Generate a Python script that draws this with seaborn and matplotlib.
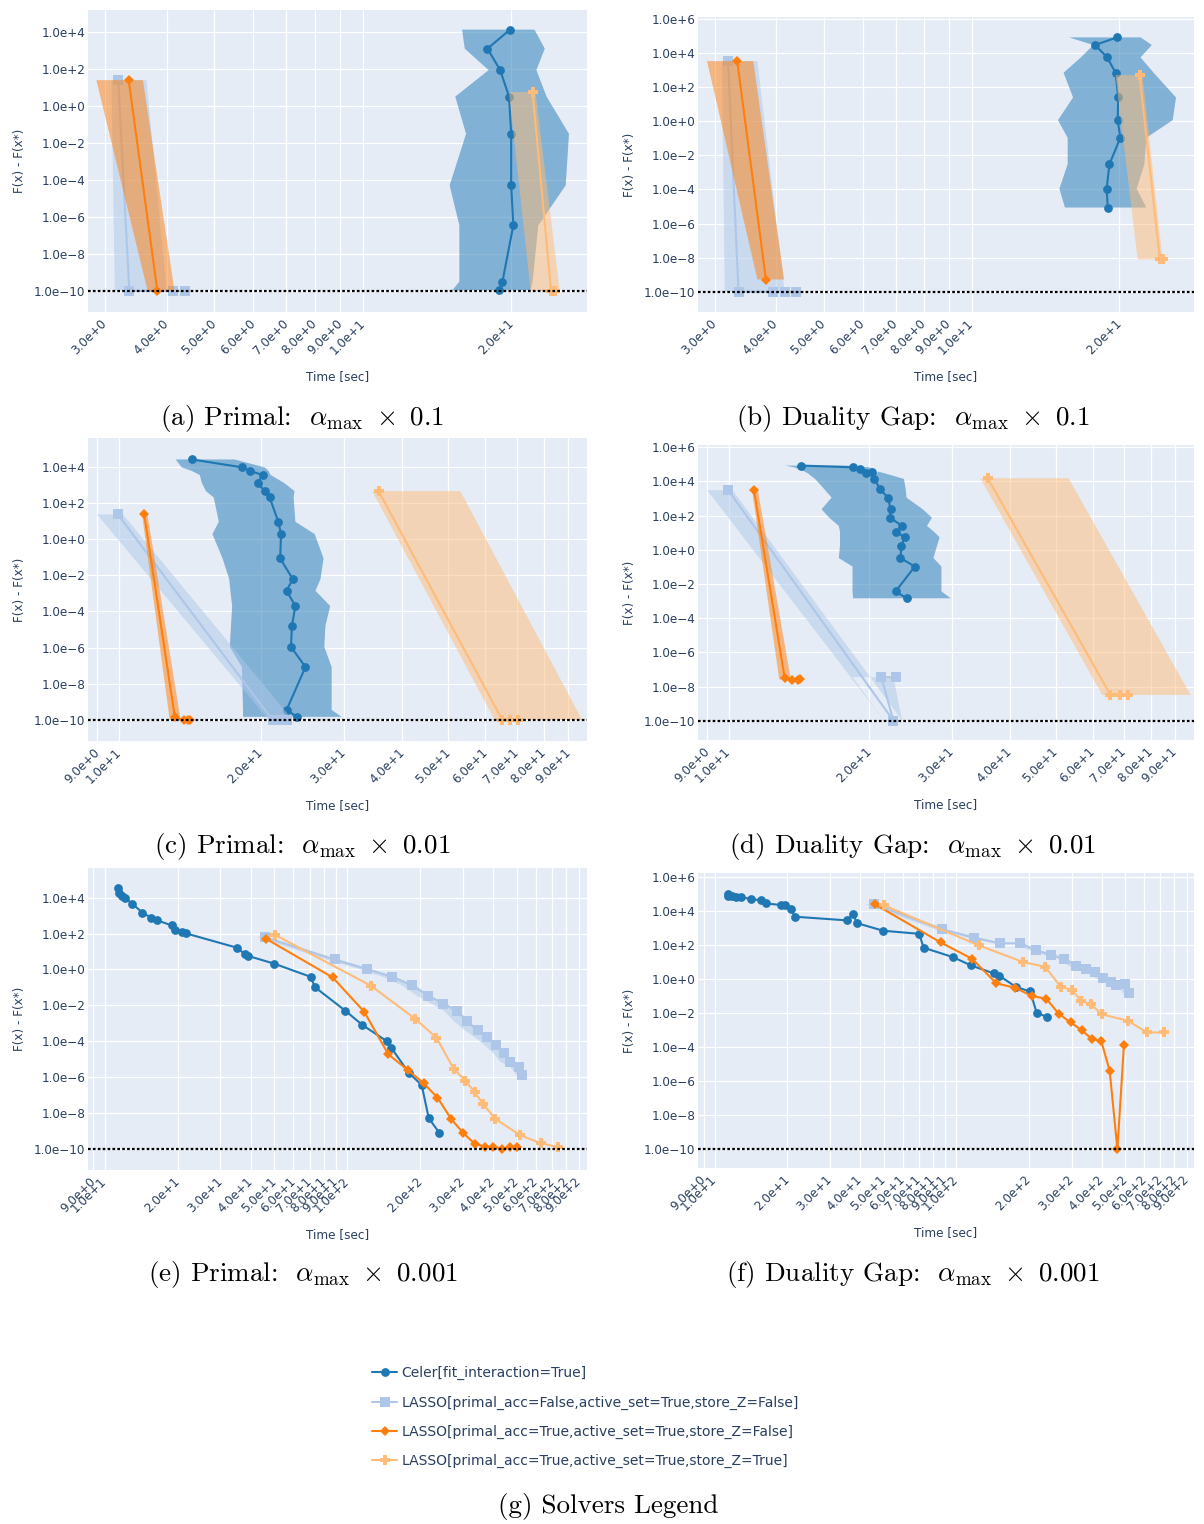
import numpy as np
import pandas as pd
import matplotlib
matplotlib.use("Agg")
import matplotlib.pyplot as plt
import seaborn as sns
from matplotlib.ticker import FixedLocator, FixedFormatter, NullLocator

# ---------------- data ----------------
SOLVERS = ["Celer[fit_interaction=True]",
           "LASSO[primal_acc=False,active_set=True,store_Z=False]",
           "LASSO[primal_acc=True,active_set=True,store_Z=False]",
           "LASSO[primal_acc=True,active_set=True,store_Z=True]"]

# ---- panel (a) Primal x0.1
a_cel_t = [19.9, 17.9, 19.0, 19.8, 20.0, 20.0, 20.2, 19.2, 18.9]
a_cel_y = [1.35e4, 1.26e3, 87, 3.2, 3.1e-2, 5.1e-5, 3.5e-7, 3.2e-10, 1.1e-10]
a_cel_lo = [15.9, 16.1, 18.0, 15.4, 16.2, 15.0, 15.7, 15.7, 15.2]
a_cel_hi = [22.3, 23.4, 22.5, 23.6, 26.2, 25.8, 22.7, 22.1, 21.9]
a_lb_t = [3.19, 3.36, 4.12, 4.36]
a_lb_y = [25, 1e-10, 1e-10, 1e-10]
a_lb_lo = [3.09, 3.14, 3.14, 3.14]
a_lb_hi = [3.64, 4.0, 4.0, 4.0]
a_or_t = [3.35, 3.83]
a_or_y = [25, 1.0e-10]
a_or_lo = [2.88, 3.66]
a_or_hi = [3.58, 4.15]
a_lo_t = [22.1, 24.1, 24.6]
a_lo_y = [5.6, 1e-10, 1e-10]
a_lo_lo = [19.8, 21.9, 21.9]
a_lo_hi = [22.4, 25.1, 25.1]

# ---- panel (b) Duality gap x0.1
b_cel_t = [19.8, 17.85, 18.9, 19.65, 19.9, 19.85, 20.1, 19.1, 18.85, 18.95]
b_cel_y = [8.4e4, 3.0e4, 5.6e3, 708, 25, 1.17, 0.107, 3.1e-3, 1.1e-4, 8.7e-6]
b_cel_lo = [15.8, 17.7, 16.7, 15.4, 16.1, 15.0, 15.7, 15.7, 15.1, 15.5]
b_cel_hi = [22.1, 23.3, 22.1, 23.5, 26.1, 25.7, 22.7, 22.5, 21.7, 22.7]
b_lb_t = [3.19, 3.35, 3.93, 4.16, 4.38]
b_lb_y = [3.4e3, 1e-10, 1e-10, 1e-10, 1e-10]
b_lb_lo = [3.10, 3.14, 3.14, 3.14, 3.14]
b_lb_hi = [3.66, 4.16, 4.16, 4.16, 4.16]
b_or_t = [3.33, 3.81]
b_or_y = [3.4e3, 5.2e-10]
b_or_lo = [2.89, 3.66]
b_or_hi = [3.59, 4.15]
b_lo_t = [22.0, 24.2, 24.6]
b_lo_y = [513, 7.8e-9, 7.8e-9]
b_lo_lo = [19.65, 21.8, 21.8]
b_lo_hi = [22.3, 24.5, 24.5]

# ---- panel (c) Primal x0.01
c_cel_t = [14.3, 18.3, 19.0, 20.2, 19.7, 20.4, 20.9, 21.8, 22.1, 22.0, 23.4, 22.7,
           23.7, 23.3, 23.2, 24.9, 22.7, 23.9]
c_cel_y = [2.54e4, 9.2e3, 5.8e3, 3.5e3, 1.31e3, 453, 202, 9.1, 1.9, 8.6e-2, 6.2e-3,
           1.4e-3, 2.0e-4, 1.6e-5, 1.1e-6, 8.5e-8, 3.6e-10, 1.5e-10]
c_cel_lo = [13.2, 13.6, 14.3, 14.85, 15.0, 15.3, 15.9, 16.3, 15.8, 16.6, 17.15, 17.25,
            17.4, 17.3, 17.2, 18.25, 18.35, 18.35]
c_cel_hi = [17.6, 20.4, 20.8, 21.0, 22.4, 23.6, 23.5, 23.7, 26.05, 27.2, 26.8, 26.15,
            28.1, 27.45, 27.3, 28.3, 28.3, 29.7]
c_lb_t = [9.95, 21.2, 22.0, 22.8]
c_lb_y = [23.2, 1e-10, 1e-10, 1e-10]
c_lb_lo = [8.99, 20.8, 20.8, 20.8]
c_lb_hi = [10.2, 23.4, 23.4, 23.4]
c_or_t = [11.32, 13.15, 13.72, 14.04, 14.17]
c_or_y = [23.2, 1.4e-10, 1e-10, 1e-10, 1e-10]
c_or_lo = [11.2, 12.8, 12.8, 12.8, 12.8]
c_or_hi = [11.5, 13.5, 13.5, 13.5, 13.5]
c_lo_t = [35.6, 65.2, 67.7, 70.3]
c_lo_y = [453, 1e-10, 1e-10, 1e-10]
c_lo_lo = [34.5, 62.8, 62.8, 62.8]
c_lo_hi = [53.1, 96.3, 96.3, 96.3]

# ---- panel (d) Duality gap x0.01
d_cel_t = [14.3, 18.4, 19.1, 19.7, 20.3, 20.5, 21.05, 21.9, 22.2, 22.1, 23.5, 22.8,
           23.8, 23.4, 23.3, 25.0, 22.75, 24.0]
d_cel_y = [8.45e4, 6.7e4, 5.4e4, 3.0e4, 3.77e4, 1.4e4, 3.6e3, 1.13e3, 235, 76, 24.8,
           11.1, 5.4, 1.75, 0.33, 0.104, 3.7e-3, 1.45e-3]
d_cel_lo = [13.2, 13.8, 14.1, 14.8, 14.6, 15.3, 16.0, 16.6, 15.8, 16.4, 17.2, 17.3,
            17.3, 17.3, 17.2, 18.4, 18.4, 18.45]
d_cel_hi = [17.8, 19.95, 20.4, 20.75, 20.9, 23.7, 23.9, 24.0, 26.0, 27.2, 26.55, 27.5,
            28.25, 27.9, 27.4, 28.5, 28.5, 29.85]
d_lb_t = [9.98, 22.5, 21.2, 22.8]
d_lb_y = [3.04e3, 1e-10, 3.5e-8, 3.5e-8]
d_lb_lo = [9.0, 21.5, 18.4, 20.6]
d_lb_hi = [10.2, 23.5, 22.5, 23.5]
d_or_t = [11.33, 13.18, 13.69, 14.09, 14.22]
d_or_y = [3.04e3, 3.0e-8, 2.4e-8, 2.4e-8, 2.6e-8]
d_or_lo = [11.22, 12.82, 12.82, 12.82, 12.82]
d_or_hi = [11.55, 13.57, 13.57, 13.57, 13.57]
d_lo_t = [35.8, 65.5, 68.5, 71.5]
d_lo_y = [1.53e4, 3.2e-9, 3.2e-9, 3.2e-9]
d_lo_lo = [34.5, 62.9, 62.9, 62.9]
d_lo_hi = [53.3, 97.2, 97.2, 97.2]

# ---- panel (e) Primal x0.001
e_cel_t = [11.4, 11.5, 11.8, 12.2, 13.0, 14.3, 15.6, 16.4, 18.9, 19.6, 20.8, 21.7,
           35.2, 37.8, 39.2, 50.0, 70.6, 73.8, 98.2, 115.6, 145.2, 151.7, 179.5,
           202.8, 216.8, 239.3]
e_cel_y = [3.6e4, 1.74e4, 1.29e4, 9.1e3, 4.7e3, 1.5e3, 759, 562, 288, 158, 126, 102,
           16.2, 7.2, 5.6, 2.1, 0.39, 0.1, 5.0e-3, 7.9e-4, 1.02e-4, 4.4e-5, 1.7e-6,
           3.5e-7, 5.0e-9, 7.9e-10]
e_lb_t = [45.9, 88.7, 120.8, 153.1, 185.4, 215.3, 248.9, 283.1, 311.9, 344.4, 378.4,
          410.2, 441.6, 466.7, 510.5, 523.6]
e_lb_y = [62, 3.6, 1.05, 0.39, 0.129, 3.5e-2, 1.23e-2, 5.0e-3, 1.26e-3, 4.0e-4,
          1.6e-4, 6.0e-5, 2.1e-5, 7.1e-6, 3.5e-6, 1.23e-6]
e_lb_lo = [42.5, 82, 112, 140, 168, 193, 222, 250, 276, 305, 336, 368, 400, 428, 470, 500]
e_lb_hi = [47, 91, 124, 157, 190, 220, 254, 289, 318, 351, 385, 418, 450, 476, 520, 534]
e_or_t = [46.5, 87.1, 117.5, 147.9, 177.4, 206.5, 235.5, 267.9, 301.3, 335.7, 368.1,
          399.9, 433.5, 469.9, 501.2]
e_or_y = [50, 0.36, 4.4e-3, 1.8e-5, 2.5e-6, 4.5e-7, 7.1e-8, 4.6e-9, 7.2e-10, 1.9e-10,
          1.3e-10, 1.3e-10, 1.0e-10, 1.2e-10, 1.2e-10]
e_lo_t = [50.6, 125.3, 190.5, 233.3, 274.8, 306.9, 335.7, 363.9, 407.4, 516.4, 629.5, 741.3]
e_lo_y = [83, 0.123, 1.78e-3, 1.55e-4, 2.8e-6, 6.3e-7, 1.38e-7, 3.0e-8, 4.6e-9,
          5.6e-10, 2.0e-10, 1.2e-10]

# ---- panel (f) Duality gap x0.001
f_cel_t = [11.3, 11.4, 11.8, 12.2, 12.9, 14.2, 15.5, 16.3, 18.8, 19.5, 20.75, 21.5,
           35.2, 37.4, 38.8, 49.8, 70.2, 73.3, 97.0, 115.1, 143.2, 150.7, 177.0, 202.3,
           215.3, 237.7]
f_cel_y = [9.5e4, 7.6e4, 7.2e4, 6.8e4, 6.2e4, 4.9e4, 4.1e4, 2.7e4, 2.2e4, 2.2e4, 1.2e4,
           4.5e3, 2.75e3, 6.5e3, 1.9e3, 676, 447, 68, 19, 6.2, 2.1, 1.55, 0.33, 0.186,
           0.01, 6.0e-3]
f_lb_t = [45.6, 87.7, 118.9, 152.1, 183.7, 213.8, 246.6, 279.9, 312.6, 342.8, 375.8,
          404.6, 436.5, 459.2, 500.0, 518.8]
f_lb_y = [2.4e4, 813, 263, 123, 123, 49, 26, 15.5, 5.8, 3.6, 2.6, 1.07, 0.69, 0.42,
          0.48, 0.155]
f_lb_lo = [42, 82, 112, 143, 173, 200, 230, 262, 292, 320, 350, 378, 408, 430, 470, 488]
f_lb_hi = [47, 91, 123, 157, 190, 220, 254, 288, 322, 352, 386, 416, 448, 472, 512, 532]
f_or_t = [46.1, 86.3, 116.1, 146.6, 175.8, 205.1, 236.0, 265.5, 297.2, 330.4, 363.9,
          398.1, 431.5, 464.5, 494.3]
f_or_y = [2.4e4, 138, 15.5, 0.55, 0.30, 0.1, 6.9e-2, 9.1e-3, 2.8e-3, 1.0e-3, 2.95e-4,
          2.3e-4, 4.1e-6, 1.0e-10, 1.26e-4]
f_lo_t = [50.2, 124.2, 189.2, 233.3, 270.4, 302.7, 328.1, 359.7, 401.8, 512.9, 616.6, 726.1]
f_lo_y = [2.1e4, 93, 9.8, 5.2, 0.35, 0.22, 5.2e-2, 3.3e-2, 8.3e-3, 3.5e-3, 7.2e-4, 7.2e-4]

EPS = 1e-10

# ticks
X_TICKS_AB = [3, 4, 5, 6, 7, 8, 9, 10, 20]
X_LABELS_AB = ["3.0e+0", "4.0e+0", "5.0e+0", "6.0e+0", "7.0e+0", "8.0e+0", "9.0e+0",
               "1.0e+1", "2.0e+1"]
X_TICKS_CD = [9, 10, 20, 30, 40, 50, 60, 70, 80, 90]
X_LABELS_CD = ["9.0e+0", "1.0e+1", "2.0e+1", "3.0e+1", "4.0e+1", "5.0e+1", "6.0e+1",
               "7.0e+1", "8.0e+1", "9.0e+1"]
X_TICKS_EF = [9, 10, 20, 30, 40, 50, 60, 70, 80, 90, 100, 200, 300, 400, 500, 600, 700,
              800, 900]
X_LABELS_EF = ["9.0e+0", "1.0e+1", "2.0e+1", "3.0e+1", "4.0e+1", "5.0e+1", "6.0e+1",
               "7.0e+1", "8.0e+1", "9.0e+1", "1.0e+2", "2.0e+2", "3.0e+2", "4.0e+2",
               "5.0e+2", "6.0e+2", "7.0e+2", "8.0e+2", "9.0e+2"]
Y_TICKS_P = [1e-10, 1e-8, 1e-6, 1e-4, 1e-2, 1e0, 1e2, 1e4]
Y_LABELS_P = ["1.0e\u221210", "1.0e\u22128", "1.0e\u22126", "1.0e\u22124", "1.0e\u22122",
              "1.0e+0", "1.0e+2", "1.0e+4"]
Y_TICKS_D = [1e-10, 1e-8, 1e-6, 1e-4, 1e-2, 1e0, 1e2, 1e4, 1e6]
Y_LABELS_D = Y_LABELS_P + ["1.0e+6"]

CAPTIONS = [r"(a) Primal:  $\alpha_{\max}\ \times\ 0.1$",
            r"(b) Duality Gap:  $\alpha_{\max}\ \times\ 0.1$",
            r"(c) Primal:  $\alpha_{\max}\ \times\ 0.01$",
            r"(d) Duality Gap:  $\alpha_{\max}\ \times\ 0.01$",
            r"(e) Primal:  $\alpha_{\max}\ \times\ 0.001$",
            r"(f) Duality Gap:  $\alpha_{\max}\ \times\ 0.001$"]
LEGEND_CAPTION = "(g) Solvers Legend"

# ---------------- style ----------------
COLORS = ["#1f77b4", "#aec7e8", "#ff7f0e", "#ffbb78"]
MARKERS = ["o", "s", "D", "P"]
MSIZES = [6.3, 6.5, 5.3, 7.2]
TXT = "#2a3f5f"

sns.set_theme(style="darkgrid", rc={"axes.facecolor": "#E5ECF6", "grid.color": "white",
                                     "grid.linewidth": 0.9, "axes.edgecolor": "none"})
plt.rcParams["font.family"] = ["DejaVu Sans"]
plt.rcParams["mathtext.fontset"] = "cm"
plt.rcParams["axes.unicode_minus"] = True

W, H = 1204, 1524
fig = plt.figure(figsize=(W / 100, H / 100), dpi=100)
fig.patch.set_facecolor("white")


def rect(l, r, t, b):
    return [l / W, 1 - b / H, (r - l) / W, (b - t) / H]


panels = [
    dict(px=(88, 587, 10, 312), xlim=(2.77, 28.5), ylim=(-11.14, 5.19),
         xt=(X_TICKS_AB, X_LABELS_AB), yt=(Y_TICKS_P, Y_LABELS_P),
         series=[(a_cel_t, a_cel_y, a_cel_lo, a_cel_hi), (a_lb_t, a_lb_y, a_lb_lo, a_lb_hi),
                 (a_or_t, a_or_y, a_or_lo, a_or_hi), (a_lo_t, a_lo_y, a_lo_lo, a_lo_hi)],
         cap=(302, 418)),
    dict(px=(698, 1194, 17, 312), xlim=(2.77, 28.4), ylim=(-11.19, 6.12),
         xt=(X_TICKS_AB, X_LABELS_AB), yt=(Y_TICKS_D, Y_LABELS_D),
         series=[(b_cel_t, b_cel_y, b_cel_lo, b_cel_hi), (b_lb_t, b_lb_y, b_lb_lo, b_lb_hi),
                 (b_or_t, b_or_y, b_or_lo, b_or_hi), (b_lo_t, b_lo_y, b_lo_lo, b_lo_hi)],
         cap=(913, 418)),
    dict(px=(88, 587, 438, 741), xlim=(8.6, 98.6), ylim=(-11.16, 5.59),
         xt=(X_TICKS_CD, X_LABELS_CD), yt=(Y_TICKS_P, Y_LABELS_P),
         series=[(c_cel_t, c_cel_y, c_cel_lo, c_cel_hi), (c_lb_t, c_lb_y, c_lb_lo, c_lb_hi),
                 (c_or_t, c_or_y, c_or_lo, c_or_hi), (c_lo_t, c_lo_y, c_lo_lo, c_lo_hi)],
         cap=(302, 846)),
    dict(px=(698, 1194, 445, 740), xlim=(8.6, 98.8), ylim=(-11.13, 6.13),
         xt=(X_TICKS_CD, X_LABELS_CD), yt=(Y_TICKS_D, Y_LABELS_D),
         series=[(d_cel_t, d_cel_y, d_cel_lo, d_cel_hi), (d_lb_t, d_lb_y, d_lb_lo, d_lb_hi),
                 (d_or_t, d_or_y, d_or_lo, d_or_hi), (d_lo_t, d_lo_y, d_lo_lo, d_lo_hi)],
         cap=(913, 846)),
    dict(px=(88, 587, 868, 1170), xlim=(8.55, 973), ylim=(-11.19, 5.66),
         xt=(X_TICKS_EF, X_LABELS_EF), yt=(Y_TICKS_P, Y_LABELS_P),
         series=[(e_cel_t, e_cel_y, None, None), (e_lb_t, e_lb_y, e_lb_lo, e_lb_hi),
                 (e_or_t, e_or_y, None, None), (e_lo_t, e_lo_y, None, None)],
         cap=(303, 1274)),
    dict(px=(698, 1194, 873, 1168), xlim=(8.53, 964), ylim=(-11.1, 6.22),
         xt=(X_TICKS_EF, X_LABELS_EF), yt=(Y_TICKS_D, Y_LABELS_D),
         series=[(f_cel_t, f_cel_y, None, None), (f_lb_t, f_lb_y, f_lb_lo, f_lb_hi),
                 (f_or_t, f_or_y, None, None), (f_lo_t, f_lo_y, None, None)],
         cap=(913, 1274)),
]

CAP_KW = dict(ha="center", va="center", fontsize=19.5, color="black", family="cmr10")

handles = []
for pi, p in enumerate(panels):
    l, r, t, b = p["px"]
    ax = fig.add_axes(rect(l, r, t, b))
    ax.set_xscale("log")
    ax.set_yscale("log")
    ax.set_axisbelow(True)
    for si, (ts, ys, lo, hi) in enumerate(p["series"]):
        z = 3 + 2 * si
        df = pd.DataFrame({"time": ts, "obj": ys})
        sns.lineplot(data=df, x="time", y="obj", sort=False, estimator=None,
                     color=COLORS[si], marker=MARKERS[si], markersize=MSIZES[si],
                     markeredgewidth=0, linewidth=1.5, zorder=z, ax=ax, legend=False)
        if pi == 0:
            handles.append(ax.lines[-1])
        if lo is not None:
            ax.fill(np.r_[lo, hi[::-1]], np.r_[ys, ys[::-1]], color=COLORS[si],
                    alpha=0.5, lw=0, zorder=z + 0.5)
    ax.axhline(EPS, color="black", lw=1.6, ls=(0, (1.2, 1.0)), zorder=30)
    ax.set_xlim(*p["xlim"])
    ax.set_ylim(10 ** p["ylim"][0], 10 ** p["ylim"][1])
    ax.xaxis.set_major_locator(FixedLocator(p["xt"][0]))
    ax.xaxis.set_major_formatter(FixedFormatter(p["xt"][1]))
    ax.xaxis.set_minor_locator(NullLocator())
    ax.yaxis.set_major_locator(FixedLocator(p["yt"][0]))
    ax.yaxis.set_major_formatter(FixedFormatter(p["yt"][1]))
    ax.yaxis.set_minor_locator(NullLocator())
    ax.tick_params(axis="both", length=0, labelsize=8.64, labelcolor=TXT)
    ax.tick_params(axis="y", pad=2)
    ax.tick_params(axis="x", pad=7)
    for lab in ax.get_xticklabels():
        lab.set_rotation(45)
        lab.set_ha("right")
        lab.set_va("center")
        lab.set_rotation_mode("anchor")
    for s in ax.spines.values():
        s.set_visible(False)
    ax.grid(True, which="major", color="white", lw=0.9)
    ax.set_xlabel("Time [sec]", fontsize=8.64, color=TXT)
    ax.set_ylabel("F(x) - F(x*)", fontsize=8.64, color=TXT)
    hpx = b - t
    wpx = r - l
    ax.xaxis.set_label_coords(0.5, -65 / hpx)
    ax.xaxis.label.set_va("center")
    ax.yaxis.set_label_coords(-68 / wpx, 0.5)
    ax.yaxis.label.set_va("center")
    cx, cy = p["cap"]
    fig.text(cx / W, 1 - cy / H, CAPTIONS[pi], **CAP_KW)

leg = fig.legend(handles, SOLVERS, loc="upper left",
                 bbox_to_anchor=(372 / W, 1 - 1366 / H), frameon=False,
                 fontsize=10, labelcolor=TXT, handlelength=1.8, handletextpad=0.3,
                 labelspacing=1.1, borderpad=0, borderaxespad=0)
fig.text(608 / W, 1 - 1507 / H, LEGEND_CAPTION, **CAP_KW)

fig.savefig("out.png", dpi=100, facecolor="white")
